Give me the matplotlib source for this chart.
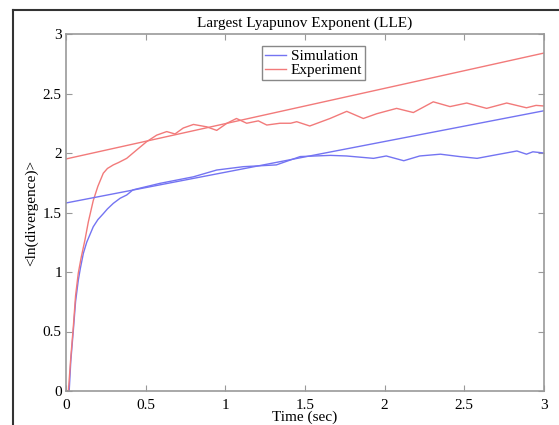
import matplotlib
matplotlib.use('Agg')
from matplotlib import pyplot as plt
from matplotlib.lines import Line2D
from matplotlib.ticker import FormatStrFormatter

plt.rcParams['font.family'] = ['Liberation Serif', 'DejaVu Serif']

# Simulation curve
sim_t = [0.0, 0.02, 0.03, 0.046, 0.06, 0.077, 0.09, 0.109, 0.13, 0.171, 0.2,
         0.234, 0.26, 0.297, 0.34, 0.381, 0.42, 0.45, 0.59,
         0.80, 0.946, 1.113, 1.32, 1.47, 1.66, 1.76, 1.93, 2.01, 2.12, 2.22,
         2.35, 2.47, 2.58, 2.68, 2.83, 2.89, 2.93, 3.0]
sim_v = [0.0, 0.0, 0.25, 0.51, 0.75, 0.93, 1.03, 1.157, 1.25, 1.38, 1.44,
         1.49, 1.53, 1.577, 1.62, 1.647, 1.69, 1.70, 1.745,
         1.80, 1.857, 1.885, 1.90, 1.97, 1.98, 1.975, 1.955, 1.975, 1.935, 1.975,
         1.99, 1.97, 1.955, 1.98, 2.017, 1.99, 2.01, 2.0]

# Experiment curve
exp_t = [0.0, 0.015, 0.03, 0.046, 0.06, 0.077, 0.095, 0.119, 0.14, 0.171, 0.2,
         0.234, 0.26, 0.297, 0.33, 0.381, 0.443,
         0.506, 0.569, 0.632, 0.684, 0.736, 0.80, 0.883, 0.946, 1.01, 1.07,
         1.134, 1.207, 1.26, 1.343, 1.41, 1.448, 1.53, 1.657, 1.762, 1.866,
         1.95, 2.075, 2.18, 2.305, 2.41, 2.515, 2.64, 2.766, 2.89, 2.95, 3.0]
exp_v = [0.0, 0.0, 0.28, 0.54, 0.8, 0.99, 1.12, 1.27, 1.42, 1.6, 1.72,
         1.83, 1.87, 1.90, 1.92, 1.955, 2.025,
         2.095, 2.15, 2.18, 2.16, 2.21, 2.24, 2.22, 2.19, 2.25, 2.29,
         2.25, 2.27, 2.235, 2.25, 2.25, 2.263, 2.227, 2.29, 2.35, 2.29,
         2.33, 2.375, 2.34, 2.43, 2.39, 2.42, 2.375, 2.42, 2.38, 2.40, 2.395]

# linear fits (endpoints)
fit_t = [0.0, 3.0]
sim_fit = [1.58, 2.355]
exp_fit = [1.95, 2.84]

blue = '#7474f2'
red = '#f27a7a'

fig = plt.figure(figsize=(5.59, 4.25), dpi=100)
ax = fig.add_axes([66/559, 1 - 391/425, 478/559, 357/425])

ax.plot(sim_t, sim_v, color=blue, linewidth=1.0, label='Simulation')
ax.plot(exp_t, exp_v, color=red, linewidth=1.0, label='Experiment')
ax.plot(fit_t, sim_fit, color=blue, linewidth=1.0)
ax.plot(fit_t, exp_fit, color=red, linewidth=1.0)

ax.set_xlim(0, 3)
ax.set_ylim(0, 3)
ax.set_xticks([0, 0.5, 1, 1.5, 2, 2.5, 3])
ax.set_yticks([0, 0.5, 1, 1.5, 2, 2.5, 3])
ax.xaxis.set_major_formatter(FormatStrFormatter('%g'))
ax.yaxis.set_major_formatter(FormatStrFormatter('%g'))
ax.tick_params(direction='in', length=4, color='#999999', top=True, right=True,
               labelsize=11)
ax.tick_params(axis='x', pad=6)
ax.tick_params(axis='y', pad=3)
for s in ax.spines.values():
    s.set_color('#999999')
    s.set_linewidth(1.2)

ax.set_title('Largest Lyapunov Exponent (LLE)', fontsize=11, pad=5)
ax.set_xlabel('Time (sec)', fontsize=11, labelpad=-1)
ax.set_ylabel('<ln(divergence)>', fontsize=11, labelpad=3)

leg = ax.legend(loc='upper left', bbox_to_anchor=(0.41, 0.965), fontsize=11,
                fancybox=False, framealpha=1, edgecolor='#888888',
                handlelength=1.4, handletextpad=0.3, borderpad=0.2,
                labelspacing=0.0, borderaxespad=0)
leg.get_frame().set_linewidth(1.0)

# dark frame of the screenshot
fig.add_artist(Line2D([13/559, 13/559], [0, 1 - 10/425], color='#333333', linewidth=1.5))
fig.add_artist(Line2D([13/559, 1], [1 - 10/425, 1 - 10/425], color='#333333', linewidth=1.5))

fig.savefig('out.png', dpi=100)
